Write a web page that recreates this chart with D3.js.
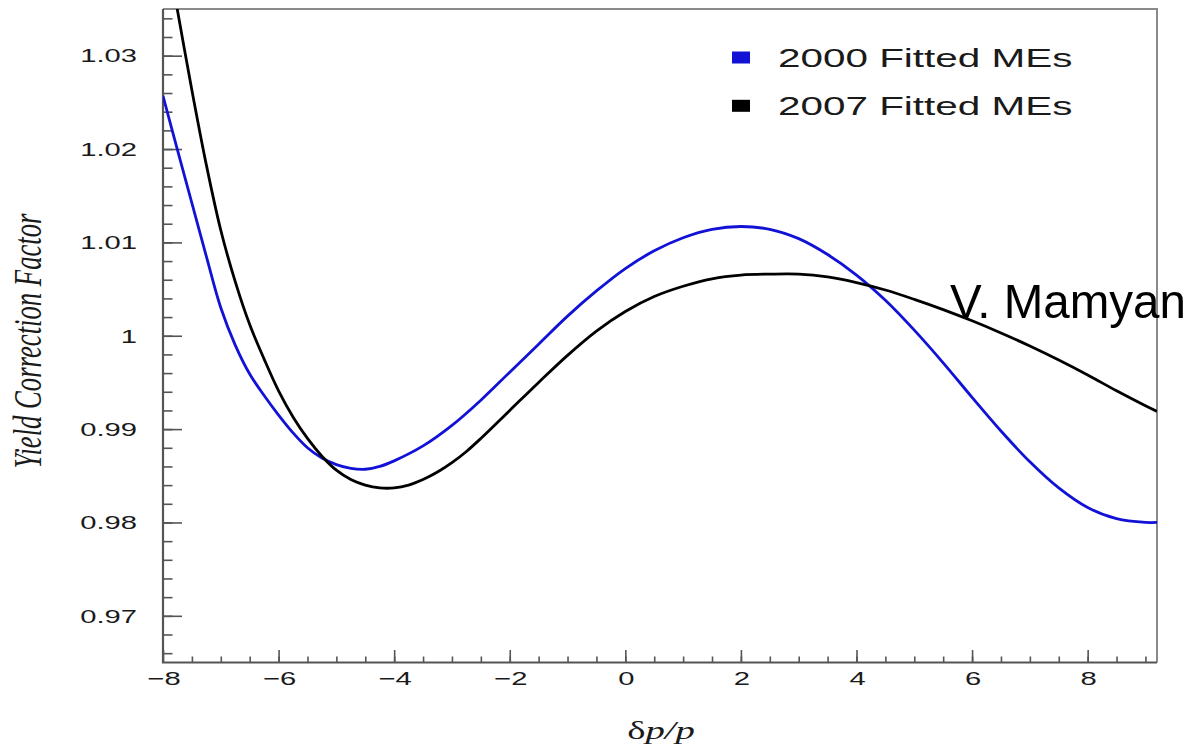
<!DOCTYPE html>
<html>
<head>
<meta charset="utf-8">
<script src="https://cdn.jsdelivr.net/npm/d3@7"></script>
<style>
  html, body { margin: 0; padding: 0; background: #ffffff; }
  svg { display: block; }
</style>
</head>
<body>
<svg id="chart" width="1194" height="749"></svg>
<script>
// Yield correction factor versus momentum offset, for the two matrix-element fits
const xs2000 = [-8.0, -7.75, -7.5, -7.25, -7.0, -6.75, -6.5, -6.25, -6.0, -5.75, -5.5, -5.25, -5.0, -4.75, -4.5, -4.25, -4.0, -3.5, -3.0, -2.5, -2.0, -1.5, -1.0, -0.5, 0.0, 0.5, 1.0, 1.5, 2.0, 2.5, 3.0, 3.5, 4.0, 4.5, 5.0, 5.5, 6.0, 6.5, 7.0, 7.5, 8.0, 8.5, 9.0, 9.2];
const ys2000 = [1.0257, 1.0199, 1.0142, 1.0085, 1.0030, 0.9990, 0.9959, 0.9936, 0.9915, 0.9896, 0.9880, 0.9869, 0.9862, 0.9858, 0.9857, 0.9860, 0.9866, 0.9882, 0.9904, 0.9931, 0.9961, 0.9991, 1.0021, 1.0048, 1.0072, 1.0091, 1.0105, 1.0114, 1.0117, 1.0114, 1.0104, 1.0087, 1.0065, 1.0038, 1.0006, 0.9971, 0.9934, 0.9898, 0.9865, 0.9837, 0.9816, 0.9804, 0.9800, 0.9800];

const xs2007 = [-7.8, -7.5, -7.25, -7.0, -6.75, -6.5, -6.25, -6.0, -5.75, -5.5, -5.25, -5.0, -4.75, -4.5, -4.25, -4.0, -3.75, -3.5, -3.25, -3.0, -2.75, -2.5, -2.0, -1.5, -1.0, -0.5, 0.0, 0.5, 1.0, 1.5, 2.0, 2.5, 3.0, 3.5, 4.0, 4.5, 5.0, 5.5, 6.0, 6.5, 7.0, 7.5, 8.0, 8.5, 9.0, 9.2];
const ys2007 = [1.0366, 1.0263, 1.0183, 1.0113, 1.0058, 1.0012, 0.9975, 0.9941, 0.9913, 0.9890, 0.9871, 0.9856, 0.9846, 0.9840, 0.9837, 0.9837, 0.9840, 0.9846, 0.9854, 0.9864, 0.9876, 0.9890, 0.9920, 0.9950, 0.9979, 1.0005, 1.0026, 1.0042, 1.0053, 1.0061, 1.0065, 1.0066, 1.0066, 1.0063, 1.0057, 1.0049, 1.0039, 1.0028, 1.0016, 1.0003, 0.9989, 0.9974, 0.9958, 0.9941, 0.9925, 0.9919];

const seriesNames = ["2000 Fitted MEs", "2007 Fitted MEs"];
const seriesColors = ["#1212d6", "#000000"];
const xTickLabels = [-8, -6, -4, -2, 0, 2, 4, 6, 8];
const yTickLabels = [0.97, 0.98, 0.99, 1, 1.01, 1.02, 1.03];

const svg = d3.select("#chart");
const frame = { left: 163, right: 1157, top: 9, bottom: 662.5 };

const x = d3.scaleLinear().domain([-8, 9.2]).range([frame.left, frame.right]);
const y = d3.scaleLinear().domain([0.965, 1.035]).range([frame.bottom, frame.top]);

// Wide, ROOT-style lettering: draw the text at the anchor and stretch it horizontally
function wideText(parent, px, py, str, opt) {
  const g = parent.append("g")
    .attr("transform", `translate(${px},${py}) scale(${opt.sx || 1},1)${opt.rotate ? ` rotate(${opt.rotate})` : ""}`);
  return g.append("text")
    .attr("x", 0).attr("y", 0)
    .attr("text-anchor", opt.anchor || "start")
    .attr("font-family", opt.family || "'Liberation Sans', Arial, sans-serif")
    .attr("font-size", opt.size)
    .attr("font-style", opt.style || "normal")
    .attr("fill", opt.fill || "#1a1a1a")
    .text(str);
}

const fmt = v => (v < 0 ? "\u2212" + Math.abs(v) : String(v));

// Clip region for the curves
svg.append("defs").append("clipPath").attr("id", "plotClip")
  .append("rect")
  .attr("x", frame.left).attr("y", frame.top)
  .attr("width", frame.right - frame.left).attr("height", frame.bottom - frame.top);

// Frame (top and right edges)
svg.append("path")
  .attr("d", `M${frame.left},${frame.top}H${frame.right}V${frame.bottom}`)
  .attr("fill", "none").attr("stroke", "#8a8a8a").attr("stroke-width", 2);

// Y axis: major and minor ticks pointing into the plot
const yAxisG = svg.append("g").attr("transform", `translate(${frame.left},0)`);
const yMinor = d3.range(0.966, 1.0351, 0.002).map(v => +v.toFixed(3));
yAxisG.call(d3.axisLeft(y).tickValues(yMinor).tickSize(-9.5).tickFormat(""))
  .call(g => g.select(".domain").remove());
yAxisG.append("g").call(d3.axisLeft(y).tickValues(yTickLabels).tickSize(-19).tickFormat(""))
  .call(g => g.select(".domain").remove());
yAxisG.selectAll(".tick line").attr("stroke", "#555").attr("stroke-width", 1.6);

// X axis: major and minor ticks pointing up
const xAxisG = svg.append("g").attr("transform", `translate(0,${frame.bottom})`);
const xMinor = d3.range(-7.5, 9.21, 0.5);
xAxisG.call(d3.axisBottom(x).tickValues(xMinor).tickSize(-6).tickFormat(""))
  .call(g => g.select(".domain").remove());
xAxisG.append("g").call(d3.axisBottom(x).tickValues(xTickLabels).tickSize(-12.5).tickFormat(""))
  .call(g => g.select(".domain").remove());
xAxisG.selectAll(".tick line").attr("stroke", "#555").attr("stroke-width", 1.6);

// Axis lines
svg.append("path")
  .attr("d", `M${frame.left},${frame.top}V${frame.bottom}H${frame.right}`)
  .attr("fill", "none").attr("stroke", "#555").attr("stroke-width", 2.2);

// Tick labels
const labels = svg.append("g");
yTickLabels.forEach(v => {
  wideText(labels, 137, y(v) + 6.8, fmt(v), { size: 18.6, sx: 1.57, anchor: "end" });
});
xTickLabels.forEach(v => {
  wideText(labels, x(v) + 1, 685, fmt(v), { size: 18.6, sx: 1.57, anchor: "middle" });
});

// Axis titles
wideText(svg, 41, 341, "Yield Correction Factor", {
  size: 26.7, sx: 1.5, rotate: -90, anchor: "middle",
  family: "'Liberation Serif', 'Times New Roman', serif", style: "italic"
});
const xt = wideText(svg, 661, 739, "", {
  size: 25, sx: 1.55, anchor: "middle",
  family: "'Liberation Serif', 'Times New Roman', serif"
});
xt.append("tspan").text("\u03b4");
xt.append("tspan").attr("font-style", "italic").text("p/p");

// Curves
const line = d3.line().x(d => x(d[0])).y(d => y(d[1])).curve(d3.curveCatmullRom.alpha(0.5));
const series = [
  d3.zip(xs2000, ys2000),
  d3.zip(xs2007, ys2007)
];
const curves = svg.append("g").attr("clip-path", "url(#plotClip)");
series.forEach((pts, i) => {
  curves.append("path")
    .datum(pts)
    .attr("d", line)
    .attr("fill", "none")
    .attr("stroke", seriesColors[i])
    .attr("stroke-width", 2.8)
    .attr("stroke-linejoin", "round");
});

// Legend
const legend = svg.append("g");
seriesNames.forEach((name, i) => {
  const rowY = 48.3 * i;
  legend.append("rect")
    .attr("x", 732).attr("y", 51.5 + rowY)
    .attr("width", 18).attr("height", 12)
    .attr("fill", seriesColors[i]);
  wideText(legend, 778, 66.7 + rowY, name, { size: 25.6, sx: 1.58 });
});

// Author tag
svg.append("text")
  .attr("x", 950).attr("y", 318)
  .attr("font-family", "'Liberation Sans', Arial, sans-serif")
  .attr("font-size", 49)
  .attr("textLength", 236)
  .attr("lengthAdjust", "spacingAndGlyphs")
  .attr("fill", "#000")
  .text("V. Mamyan");
</script>
</body>
</html>
